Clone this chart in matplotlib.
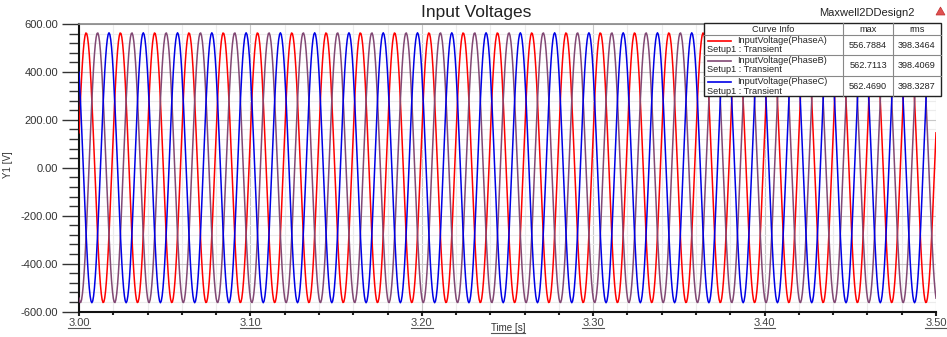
import numpy as np
import matplotlib
matplotlib.use("Agg")
import matplotlib.pyplot as plt
from matplotlib.lines import Line2D
from matplotlib.patches import Rectangle, Polygon

# ---- data ----
phase_names = ["PhaseA", "PhaseB", "PhaseC"]
curve_labels = ["InputVoltage(PhaseA)", "InputVoltage(PhaseB)", "InputVoltage(PhaseC)"]
setup_label = "Setup1 : Transient"
amplitudes = [563.3, 563.4, 563.3]          # V (peak)
phase_deg = [15.0, -105.0, -225.0]          # phase at t = 3.00 s
frequency_hz = 50.0
t_start, t_stop, t_step = 3.00, 3.50, 0.0005
max_values = ["556.7884", "562.7113", "562.4690"]
rms_values = ["398.3464", "398.4069", "398.3287"]
x_ticks = [3.00, 3.10, 3.20, 3.30, 3.40, 3.50]
y_ticks = [-600, -400, -200, 0, 200, 400, 600]
colors = ["#ff0000", "#824874", "#0000e6"]

plt.rcParams['font.family'] = ['Liberation Sans', 'DejaVu Sans']

W, H = 947, 337
fig = plt.figure(figsize=(W / 100, H / 100), dpi=100)
ax = fig.add_axes([79 / W, 1 - 311.5 / H, (936 - 79) / W, (311.5 - 24) / H])

t = np.arange(t_start, t_stop + t_step / 2, t_step)
for amp, ph, c in zip(amplitudes, phase_deg, colors):
    v = amp * np.sin(2 * np.pi * frequency_hz * (t - t_start) + np.deg2rad(ph))
    ax.plot(t, v, color=c, lw=1.1, zorder=3)

ax.set_xlim(t_start, t_stop)
ax.set_ylim(-600, 600)
ax.set_xticks(x_ticks)
ax.set_xticklabels([f"{x:.2f}" for x in x_ticks])
ax.set_xticks(np.arange(3.0, 3.5001, 0.02), minor=True)
ax.set_yticks(y_ticks)
ax.set_yticklabels([f"{y:.2f}" for y in y_ticks])
ax.set_yticks(np.arange(-600, 600.1, 40), minor=True)

ax.grid(which='minor', color='#ececec', lw=0.8, zorder=0)
ax.grid(which='major', color='#c8c8c8', lw=0.8, zorder=0)
ax.set_axisbelow(True)

ax.tick_params(axis='y', which='major', direction='out', length=12, width=1, colors='#333333',
               labelsize=8, labelcolor='#333333', pad=3)
ax.tick_params(axis='y', which='minor', direction='out', length=7, width=1, colors='#333333')
ax.tick_params(axis='x', which='major', direction='out', length=3, width=1.5, colors='#222222',
               labelsize=8, labelcolor='#444444', pad=2)
ax.tick_params(axis='x', which='minor', direction='out', length=2, width=1.5, colors='#222222')

for s in ['left', 'bottom']:
    ax.spines[s].set_linewidth(1.5)
    ax.spines[s].set_color('#111111')
ax.spines['top'].set_color('#888888')
ax.spines['top'].set_linewidth(1.2)
ax.spines['right'].set_visible(False)


def fx(x):
    return x / W


def fy(y):
    return 1 - y / H


xlabel = fig.text(fx(508), fy(328), "Time [s]", ha='center', va='center', fontsize=7, color='#333333')
fig.text(fx(8), fy(165), "Y1 [V]", ha='center', va='center', rotation=90, fontsize=7, color='#333333')

fig.text(fx(476), fy(13), "Input Voltages", ha='center', va='center', fontsize=12.5, color='#222222')
fig.text(fx(867), fy(13), "Maxwell2DDesign2", ha='center', va='center', fontsize=8, color='#222222')

# small red triangle icon
tri = Polygon([[fx(936), fy(15)], [fx(945), fy(15)], [fx(940.5), fy(7)]],
              closed=True, transform=fig.transFigure, facecolor='#e05050', edgecolor='#c03030', lw=0.5)
fig.add_artist(tri)

# legend table
tx0, tx1, ty0, ty1 = 704, 941, 23, 96
fig.add_artist(Rectangle((fx(tx0), fy(ty1)), fx(tx1) - fx(tx0), fy(ty0) - fy(ty1),
                         transform=fig.transFigure, facecolor='white', edgecolor='#222222', lw=1, zorder=10))
for xc in [843, 893]:
    fig.add_artist(Line2D([fx(xc), fx(xc)], [fy(ty0), fy(ty1)], transform=fig.transFigure,
                          color='#888888', lw=0.8, zorder=11))
for yr in [35, 55, 76]:
    fig.add_artist(Line2D([fx(tx0), fx(tx1)], [fy(yr), fy(yr)], transform=fig.transFigure,
                          color='#888888', lw=0.8, zorder=11))
fs = 6.6
fig.text(fx(773), fy(29.5), "Curve Info", ha='center', va='center', fontsize=fs, color='#222222', zorder=12)
fig.text(fx(868), fy(29.5), "max", ha='center', va='center', fontsize=fs, color='#222222', zorder=12)
fig.text(fx(917), fy(29.5), "rms", ha='center', va='center', fontsize=fs, color='#222222', zorder=12)
row_tops = [35, 55, 76]
for i, (lab, c, mx, rms) in enumerate(zip(curve_labels, colors, max_values, rms_values)):
    y0 = row_tops[i]
    fig.add_artist(Line2D([fx(708), fx(731)], [fy(y0 + 5.5), fy(y0 + 5.5)], transform=fig.transFigure,
                          color=c, lw=1.2, zorder=12))
    fig.text(fx(737), fy(y0 + 1), lab, ha='left', va='top', fontsize=fs, color='#222222', zorder=12)
    fig.text(fx(707), fy(y0 + 19.5), setup_label, ha='left', va='bottom', fontsize=fs, color='#222222', zorder=12)
    fig.text(fx(868), fy(y0 + 10.5), mx, ha='center', va='center', fontsize=fs, color='#222222', zorder=12)
    fig.text(fx(917), fy(y0 + 10.5), rms, ha='center', va='center', fontsize=fs, color='#222222', zorder=12)

# underline x tick labels and x label
fig.canvas.draw()
r = fig.canvas.get_renderer()
for txt in list(ax.get_xticklabels()) + [xlabel]:
    bb = txt.get_window_extent(r)
    yline = bb.y0 + 0.5
    fig.add_artist(Line2D([bb.x0 / W, bb.x1 / W], [yline / H, yline / H], transform=fig.transFigure,
                          color='#555555', lw=0.8))

fig.savefig("out.png", dpi=100)
